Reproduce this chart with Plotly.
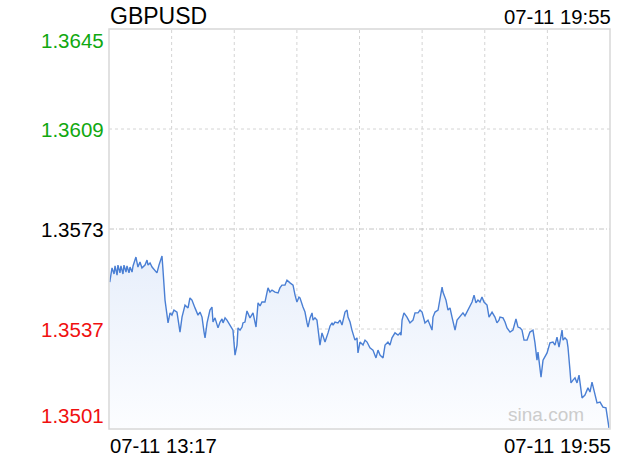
import plotly.graph_objects as go

# minutes since 07-11 13:17
minutes = [0.6, 2.4, 4.0, 4.8, 6.4, 7.1, 8.7, 9.5, 11.1, 11.9, 13.5, 14.3, 15.9, 16.7, 18.3, 19.1,
           21.4, 23.0, 24.6, 26.2, 28.6, 30.2, 31.0, 32.6, 34.2, 36.5, 38.1, 39.7, 41.3, 42.1, 42.9,
           44.5, 46.1, 46.9, 48.5, 50.0, 51.6, 54.0, 56.4, 58.0, 60.4, 62.8, 64.3, 65.9, 68.3, 70.7,
           72.3, 73.9, 75.5, 76.3, 77.9, 80.2, 81.8, 82.6, 84.2, 85.8, 86.6, 88.2, 89.8, 90.6, 92.2,
           93.7, 96.1, 98.5, 100.1, 101.7, 102.5, 104.1, 105.7, 106.4, 108.0, 109.6, 112.0, 114.4,
           116.8, 118.4, 120.0, 121.5, 123.9, 126.3, 127.9, 129.5, 131.9, 134.3, 135.8, 137.4, 139.8,
           141.4, 143.8, 146.2, 147.8, 149.3, 150.9, 151.7, 154.1, 155.7, 157.3, 158.1, 159.7, 161.3,
           162.1, 163.6, 165.2, 166.0, 167.6, 169.2, 171.6, 174.0, 175.6, 177.2, 178.0, 179.5, 181.9,
           183.5, 185.1, 187.5, 189.1, 189.9, 191.5, 193.0, 195.4, 197.0, 197.8, 199.4, 201.8, 203.4,
           205.0, 207.3, 209.7, 212.1, 213.7, 215.3, 217.7, 219.3, 221.6, 223.2, 224.8, 227.2, 229.6,
           231.2, 232.0, 232.8, 234.3, 236.7, 239.1, 241.5, 243.1, 245.5, 247.1, 248.7, 251.0, 253.4,
           255.0, 256.6, 257.4, 259.0, 261.4, 263.0, 264.6, 265.3, 267.7, 269.3, 270.9, 272.5, 273.3,
           274.9, 276.5, 278.8, 281.2, 282.8, 284.4, 286.8, 288.4, 290.0, 291.5, 293.1, 294.7, 296.3,
           297.9, 300.3, 301.9, 304.3, 306.6, 308.2, 309.8, 310.6, 313.0, 314.6, 316.2, 318.6, 320.9,
           323.3, 324.9, 326.5, 328.1, 329.7, 332.1, 334.4, 336.8, 338.4, 340.0, 340.8, 343.2, 344.8,
           346.4, 348.0, 350.3, 352.7, 354.3, 355.9, 357.5, 359.9, 360.7, 362.2, 363.8, 364.6, 366.2,
           367.0, 368.6, 370.2, 371.8, 373.4, 375.8, 378.1, 380.5, 382.1, 383.7, 385.3, 387.7, 390.1,
           392.4, 394.8, 396.4, 397.2]

prices = [1.35539, 1.35590, 1.35568, 1.35597, 1.35564, 1.35600, 1.35572, 1.35597, 1.35568, 1.35600,
          1.35575, 1.35597, 1.35572, 1.35593, 1.35575, 1.35597, 1.35629, 1.35593, 1.35611, 1.35590,
          1.35600, 1.35618, 1.35600, 1.35608, 1.35593, 1.35582, 1.35572, 1.35600, 1.35618, 1.35633,
          1.35582, 1.35474, 1.35420, 1.35392, 1.35428, 1.35420, 1.35438, 1.35431, 1.35359, 1.35413,
          1.35456, 1.35446, 1.35482, 1.35474, 1.35446, 1.35420, 1.35431, 1.35413, 1.35359, 1.35338,
          1.35392, 1.35438, 1.35449, 1.35395, 1.35410, 1.35384, 1.35374, 1.35395, 1.35406, 1.35392,
          1.35410, 1.35402, 1.35384, 1.35366, 1.35276, 1.35312, 1.35374, 1.35366, 1.35377, 1.35392,
          1.35395, 1.35435, 1.35410, 1.35428, 1.35377, 1.35464, 1.35453, 1.35467, 1.35467, 1.35518,
          1.35503, 1.35510, 1.35503, 1.35500, 1.35518, 1.35528, 1.35528, 1.35546, 1.35536, 1.35528,
          1.35492, 1.35467, 1.35485, 1.35482, 1.35449, 1.35431, 1.35392, 1.35377, 1.35410, 1.35428,
          1.35402, 1.35410, 1.35402, 1.35377, 1.35312, 1.35356, 1.35323, 1.35356, 1.35381, 1.35392,
          1.35384, 1.35395, 1.35392, 1.35402, 1.35384, 1.35431, 1.35438, 1.35413, 1.35395, 1.35366,
          1.35330, 1.35338, 1.35284, 1.35323, 1.35312, 1.35330, 1.35323, 1.35302, 1.35294, 1.35266,
          1.35294, 1.35276, 1.35266, 1.35312, 1.35323, 1.35312, 1.35338, 1.35356, 1.35348, 1.35356,
          1.35348, 1.35402, 1.35428, 1.35413, 1.35392, 1.35402, 1.35428, 1.35428, 1.35438, 1.35431,
          1.35392, 1.35402, 1.35384, 1.35366, 1.35413, 1.35431, 1.35438, 1.35474, 1.35521, 1.35503,
          1.35474, 1.35438, 1.35446, 1.35413, 1.35395, 1.35366, 1.35402, 1.35413, 1.35428, 1.35417,
          1.35431, 1.35456, 1.35467, 1.35492, 1.35464, 1.35474, 1.35467, 1.35485, 1.35467, 1.35456,
          1.35413, 1.35431, 1.35413, 1.35392, 1.35402, 1.35413, 1.35410, 1.35395, 1.35374, 1.35359,
          1.35366, 1.35406, 1.35377, 1.35374, 1.35366, 1.35330, 1.35330, 1.35359, 1.35366, 1.35320,
          1.35258, 1.35287, 1.35197, 1.35258, 1.35269, 1.35284, 1.35320, 1.35323, 1.35312, 1.35341,
          1.35305, 1.35366, 1.35330, 1.35338, 1.35330, 1.35305, 1.35222, 1.35176, 1.35186, 1.35194,
          1.35176, 1.35204, 1.35122, 1.35132, 1.35158, 1.35143, 1.35179, 1.35150, 1.35104, 1.35107,
          1.35089, 1.35086, 1.35042, 1.35014]

y_levels = [1.3645, 1.3609, 1.3573, 1.3537, 1.3501]
y_label_colors = ["#10a810", "#10a810", "#000000", "#f01010", "#f01010"]
prev_close = 1.3573
x_start_label = "07-11 13:17"
x_end_label = "07-11 19:55"
symbol = "GBPUSD"
total_minutes = 398
y_min, y_max = 1.3501, 1.3645

FONT = "Liberation Sans, Arial, sans-serif"

fig = go.Figure()
fig.add_trace(go.Scatter(
    x=minutes, y=prices, mode="lines",
    line=dict(color="#4a7fd4", width=1.4),
    fill="tozeroy",
    fillgradient=dict(type="vertical", start=y_min, stop=1.3563,
                      colorscale=[[0, "rgba(252,253,255,1)"], [1, "rgba(232,239,251,1)"]]),
    hoverinfo="skip", showlegend=False,
))

grid_x = [total_minutes * k / 8 for k in range(1, 8)]
for gx in grid_x:
    fig.add_shape(type="line", xref="x", yref="paper", x0=gx, x1=gx, y0=0, y1=1,
                  line=dict(color="#d4d4d4", width=1, dash="dot"), layer="below")
for lv in y_levels[1:-1]:
    if lv == prev_close:
        fig.add_shape(type="line", xref="paper", yref="y", x0=0, x1=1, y0=lv, y1=lv,
                      line=dict(color="#c4c4c4", width=1, dash="5px,2px,1px,2px"), layer="below")
    else:
        fig.add_shape(type="line", xref="paper", yref="y", x0=0, x1=1, y0=lv, y1=lv,
                      line=dict(color="#d4d4d4", width=1, dash="dot"), layer="below")

# plot border
fig.add_shape(type="rect", xref="paper", yref="paper", x0=0, x1=1, y0=0, y1=1,
              line=dict(color="#d8d8d8", width=1.5), layer="above")

# y labels
label_shift = [-11, 0, 0, 0, 14]
for lv, col, sh in zip(y_levels, y_label_colors, label_shift):
    fig.add_annotation(x=0, xref="paper", y=lv, yref="y", text=lv.__format__(".4f"),
                       xanchor="right", yanchor="middle", xshift=-3, yshift=sh,
                       showarrow=False, font=dict(family=FONT, size=20.5, color=col))

fig.add_annotation(x=0, xref="paper", y=1, yref="paper", text=x_start_label, showarrow=False,
                   xanchor="left", yanchor="top", yshift=-404, xshift=-1,
                   font=dict(family=FONT, size=20.3, color="#000000"))
fig.add_annotation(x=1, xref="paper", y=1, yref="paper", text=x_end_label, showarrow=False,
                   xanchor="right", yanchor="top", yshift=-404, xshift=3,
                   font=dict(family=FONT, size=20.3, color="#000000"))
fig.add_annotation(x=0, xref="paper", y=1, yref="paper", text=symbol, showarrow=False,
                   xanchor="left", yanchor="bottom", yshift=-2, xshift=-1,
                   font=dict(family=FONT, size=23, color="#000000"))
fig.add_annotation(x=1, xref="paper", y=1, yref="paper", text=x_end_label, showarrow=False,
                   xanchor="right", yanchor="bottom", yshift=-1, xshift=3,
                   font=dict(family=FONT, size=20.3, color="#000000"))
fig.add_annotation(x=1, xref="paper", y=0, yref="paper", text="sina.com", showarrow=False,
                   xanchor="right", yanchor="bottom", xshift=-24, yshift=2,
                   font=dict(family=FONT, size=19, color="#cccccc"))

fig.update_layout(
    width=620, height=460,
    margin=dict(l=109, r=10, t=29, b=31),
    paper_bgcolor="white", plot_bgcolor="white",
    xaxis=dict(range=[0, total_minutes], showgrid=False, zeroline=False,
               showticklabels=False, ticks="", fixedrange=True),
    yaxis=dict(range=[y_min, y_max], showgrid=False, zeroline=False,
               showticklabels=False, ticks="", fixedrange=True),
)

fig.write_html("out.html", config={"displayModeBar": False},
               post_script="document.body.style.margin='0';document.body.style.overflow='hidden';")
